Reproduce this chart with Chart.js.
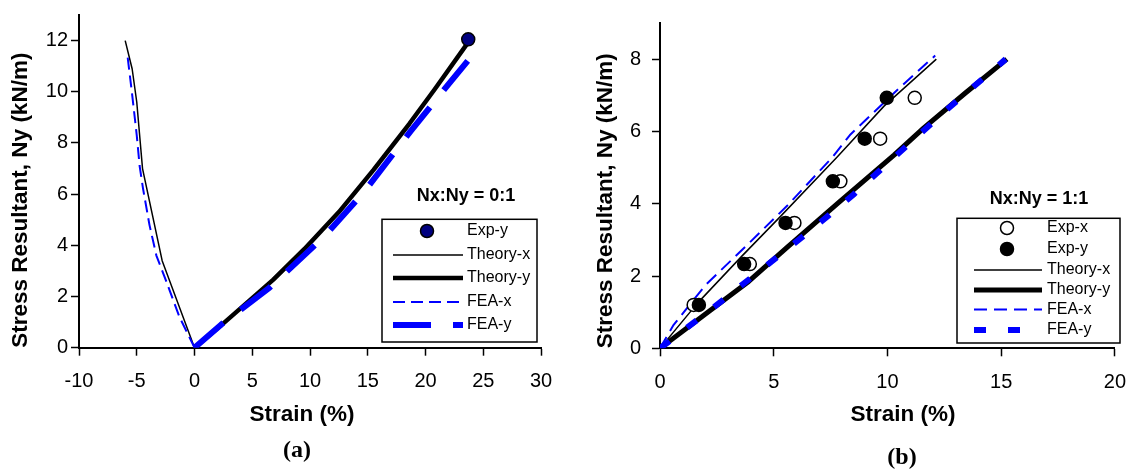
<!DOCTYPE html>
<html><head><meta charset="utf-8">
<script src="https://cdn.jsdelivr.net/npm/chart.js@4.4.1/dist/chart.umd.min.js"></script>
<style>
html,body{margin:0;padding:0;background:#fff;}
#wrap{position:relative;width:1140px;height:470px;overflow:hidden;background:#fff;}
.c{position:absolute;top:0;width:570px;height:470px;}
</style></head><body>
<div id="wrap">
<div class="c" style="left:0"><canvas id="ca" width="570" height="470"></canvas></div>
<div class="c" style="left:570px"><canvas id="cb" width="570" height="470"></canvas></div>
</div>
<script>
// ---------------- data ----------------
const seriesLabels = ['Exp-x', 'Exp-y', 'Theory-x', 'Theory-y', 'FEA-x', 'FEA-y'];

// axis ticks
const xTicksA = [-10, -5, 0, 5, 10, 15, 20, 25, 30];
const yTicksA = [0, 2, 4, 6, 8, 10, 12];
const xTicksB = [0, 5, 10, 15, 20];
const yTicksB = [0, 2, 4, 6, 8];

// panel (a)  Nx:Ny = 0:1
const aExpY_strain = [23.7];
const aExpY_ny     = [12.05];
const aTheoryX_strain = [0, -2.8, -4.5, -5.0, -5.4, -6.0];
const aTheoryX_ny     = [0, 3.4, 7.0, 9.6, 10.9, 12.0];
const aTheoryY_strain = [0, 2.5, 6.8, 9.5, 12.5, 15.5, 18.6, 20.8, 23.8];
const aTheoryY_ny     = [0, 0.95, 2.65, 3.85, 5.3, 6.95, 8.75, 10.1, 12.0];
const aFeaX_strain = [0, -1.3, -2.45, -3.3, -3.9, -4.45, -4.75, -5.0, -5.4, -5.8];
const aFeaX_ny     = [0, 1.2, 2.6, 3.6, 4.8, 6.2, 7.1, 8.3, 9.9, 11.4];
const aFeaY_strain = [0, 2.3, 6.5, 11.25, 14.7, 18.7, 22.0, 24.0];
const aFeaY_ny     = [0, 0.9, 2.35, 4.35, 6.1, 8.45, 10.3, 11.4];

// panel (b)  Nx:Ny = 1:1
const bExpX_strain = [1.48, 3.95, 5.91, 7.93, 9.68, 11.2];
const bExpX_ny     = [1.2, 2.33, 3.47, 4.62, 5.8, 6.93];
const bExpY_strain = [1.71, 3.7, 5.52, 7.6, 9.0, 9.97];
const bExpY_ny     = [1.2, 2.33, 3.47, 4.62, 5.8, 6.93];
const bTheoryX_strain = [0, 1.65, 3.6, 5.3, 7.8, 9.85, 12.15];
const bTheoryX_ny     = [0, 1.25, 2.55, 3.65, 5.3, 6.7, 8.0];
const bTheoryY_strain = [0, 2.0, 3.9, 5.6, 7.8, 10.3, 11.6, 13.4, 15.25];
const bTheoryY_ny     = [0, 0.95, 1.85, 2.8, 4.0, 5.35, 6.1, 7.05, 8.0];
const bFeaX_strain = [0, 0.6, 2.0, 3.9, 5.6, 7.6, 8.35, 10.35, 12.1];
const bFeaX_ny     = [0, 0.65, 1.75, 2.9, 3.95, 5.3, 5.9, 7.1, 8.1];
const bFeaY_strain = [0, 2.4, 4.5, 6.7, 8.5, 10.5, 12.6, 15.2];
const bFeaY_ny     = [0, 1.15, 2.2, 3.3, 4.25, 5.4, 6.6, 8.0];

// ---------------- helpers ----------------
const pts = (xs, ys) => xs.map((x, i) => ({x: x, y: ys[i]}));
const SANS = '"Liberation Sans", Arial, sans-serif';
const SERIF = '"Liberation Serif", "Times New Roman", serif';

function lineDs(label, xs, ys, color, width, dash, order) {
  return {label, data: pts(xs, ys), showLine: true, borderColor: color, backgroundColor: color,
    borderWidth: width, borderDash: dash, pointRadius: 0, pointHoverRadius: 0, fill: false,
    tension: 0, borderCapStyle: 'butt', borderJoinStyle: 'round', order};
}
function markDs(label, xs, ys, fillColor, order) {
  return {label, data: pts(xs, ys), showLine: false, pointRadius: 6.5, pointHoverRadius: 6.5,
    pointBackgroundColor: fillColor, pointBorderColor: '#000', pointBorderWidth: 1.5, order};
}

const extras = {
  id: 'extras',
  afterDraw(chart, args, opts) {
    const ctx = chart.ctx;
    ctx.save();
    (opts.texts || []).forEach(t => {
      ctx.font = t.font; ctx.fillStyle = '#000';
      ctx.textAlign = 'center'; ctx.textBaseline = 'middle';
      ctx.fillText(t.text, t.x, t.y);
    });
    const L = opts.legend;
    if (L) {
      ctx.setLineDash([]);
      ctx.lineWidth = 1.5; ctx.strokeStyle = '#000';
      ctx.strokeRect(L.box[0], L.box[1], L.box[2], L.box[3]);
      L.rows.forEach((name, i) => {
        const ds = chart.data.datasets.find(d => d.label === name);
        const y = L.ys[i];
        if (ds.showLine === false) {
          ctx.beginPath();
          ctx.arc(L.markerX, y, ds.pointRadius, 0, Math.PI * 2);
          ctx.fillStyle = ds.pointBackgroundColor; ctx.fill();
          ctx.lineWidth = ds.pointBorderWidth; ctx.strokeStyle = ds.pointBorderColor; ctx.stroke();
        } else {
          ctx.beginPath();
          ctx.setLineDash(ds.borderDash || []);
          ctx.lineCap = 'butt';
          ctx.lineWidth = ds.borderWidth; ctx.strokeStyle = ds.borderColor;
          ctx.moveTo(L.x0, y); ctx.lineTo(L.x1, y); ctx.stroke();
          ctx.setLineDash([]);
        }
        ctx.fillStyle = '#000'; ctx.font = L.font;
        ctx.textAlign = 'left'; ctx.textBaseline = 'middle';
        ctx.fillText(name, L.textX, y);
      });
    }
    ctx.restore();
  }
};

function scales(xMin, xMax, xT, yMin, yMax, yT, yWidth, xHeight, yPad, yTitlePad) {
  const grid = {display: true, drawOnChartArea: false, drawTicks: true, tickLength: 8,
                tickWidth: 1.5, tickColor: '#000'};
  const border = {display: true, color: '#000', width: 2};
  return {
    x: {type: 'linear', min: xMin, max: xMax, grid, border,
        afterBuildTicks: s => { s.ticks = xT.map(v => ({value: v})); },
        afterFit: s => { s.height = xHeight; },
        ticks: {color: '#000', font: {family: SANS, size: 20}, padding: 14, maxRotation: 0, autoSkip: false}},
    y: {type: 'linear', min: yMin, max: yMax, grid, border,
        afterBuildTicks: s => { s.ticks = yT.map(v => ({value: v})); },
        afterFit: s => { s.width = yWidth; },
        ticks: {color: '#000', font: {family: SANS, size: 20}, padding: yPad, autoSkip: false},
        title: {display: true, text: 'Stress Resultant, Ny (kN/m)', align: 'start', color: '#000',
                font: {family: SANS, size: 22.5, weight: 'bold'}, padding: {top: yTitlePad, bottom: 0}}}
  };
}

const common = {
  responsive: false, animation: false, devicePixelRatio: 1,
  plugins: {legend: {display: false}, tooltip: {enabled: false}},
  events: []
};

// ---------------- panel (a) ----------------
new Chart(document.getElementById('ca'), {
  type: 'scatter',
  data: {datasets: [
    markDs(seriesLabels[1], aExpY_strain, aExpY_ny, '#000080', 0),
    lineDs(seriesLabels[4], aFeaX_strain, aFeaX_ny, '#0000ff', 2, [12, 6], 2),
    lineDs(seriesLabels[5], aFeaY_strain, aFeaY_ny, '#0000ff', 6, [38, 22], 3),
    lineDs(seriesLabels[2], aTheoryX_strain, aTheoryX_ny, '#000000', 1.5, [], 4),
    lineDs(seriesLabels[3], aTheoryY_strain, aTheoryY_ny, '#000000', 4.5, [], 5)
  ]},
  options: Object.assign({}, common, {
    layout: {padding: {left: 0, right: 29, top: 11.7, bottom: 0}},
    scales: scales(-10, 30, xTicksA, 0, 13, yTicksA, 79, 122.3, 3, 7),
    plugins: Object.assign({}, common.plugins, {extras: {
      texts: [
        {text: 'Strain (%)', x: 302, y: 415, font: 'bold 22.5px ' + SANS},
        {text: '(a)', x: 297, y: 451, font: 'bold 24px ' + SERIF},
        {text: 'Nx:Ny = 0:1', x: 466, y: 196, font: 'bold 18px ' + SANS}
      ],
      legend: {box: [382, 219.3, 155, 122.7], rows: ['Exp-y', 'Theory-x', 'Theory-y', 'FEA-x', 'FEA-y'],
               ys: [231, 255, 278, 302, 325], x0: 393, x1: 463, markerX: 427, textX: 467,
               font: '16px ' + SANS}
    }})
  }),
  plugins: [extras]
});

// ---------------- panel (b) ----------------
new Chart(document.getElementById('cb'), {
  type: 'scatter',
  data: {datasets: [
    markDs(seriesLabels[1], bExpY_strain, bExpY_ny, '#000000', 0),
    markDs(seriesLabels[0], bExpX_strain, bExpX_ny, '#ffffff', 1),
    lineDs(seriesLabels[4], bFeaX_strain, bFeaX_ny, '#0000ff', 2, [13, 7], 2),
    lineDs(seriesLabels[5], bFeaY_strain, bFeaY_ny, '#0000ff', 6, [12, 22], 3),
    lineDs(seriesLabels[2], bTheoryX_strain, bTheoryX_ny, '#000000', 1.5, [], 4),
    lineDs(seriesLabels[3], bTheoryY_strain, bTheoryY_ny, '#000000', 5, [], 5)
  ]},
  options: Object.assign({}, common, {
    layout: {padding: {left: 0, right: 16, top: 11.6, bottom: 0}},
    scales: scales(0, 20, xTicksB, 0, 9, yTicksB, 90, 121.7, 11, 22),
    plugins: Object.assign({}, common.plugins, {extras: {
      texts: [
        {text: 'Strain (%)', x: 333, y: 415, font: 'bold 22.5px ' + SANS},
        {text: '(b)', x: 332, y: 458, font: 'bold 24px ' + SERIF},
        {text: 'Nx:Ny = 1:1', x: 469, y: 199, font: 'bold 18px ' + SANS}
      ],
      legend: {box: [387, 218.3, 163, 124.7], rows: ['Exp-x', 'Exp-y', 'Theory-x', 'Theory-y', 'FEA-x', 'FEA-y'],
               ys: [228, 249, 270, 290, 309.5, 330], x0: 404, x1: 472, markerX: 437, textX: 477,
               font: '16px ' + SANS}
    }})
  }),
  plugins: [extras]
});
</script>
</body></html>
